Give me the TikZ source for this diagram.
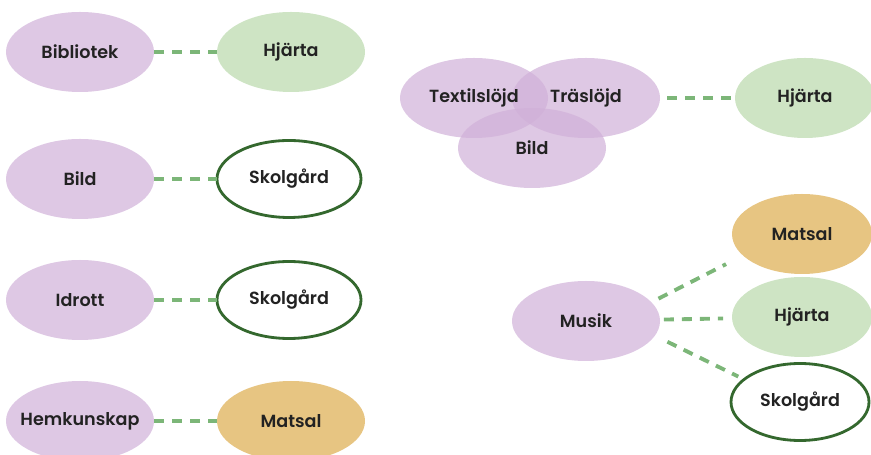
\documentclass[tikz,border=0pt]{standalone}
\usepackage{fontspec}
\setmainfont{Poppins SemiBold}
\usetikzlibrary{positioning,shapes.geometric}
\definecolor{subj}{RGB}{208,176,216}
\definecolor{heart}{RGB}{206,228,196}
\definecolor{hall}{RGB}{231,197,130}
\definecolor{yard}{RGB}{52,104,46}
\definecolor{link}{RGB}{124,182,120}
\definecolor{ink}{RGB}{34,34,34}

\begin{document}
\begin{tikzpicture}[node distance=12.6mm,
  every node/.style={font=\fontsize{10}{12}\selectfont,text=ink,ellipse,inner xsep=-6mm,inner ysep=0pt,
    outer sep=0pt,minimum width=29.6mm,minimum height=16mm},
  subject/.style={fill=subj,fill opacity=.7,text opacity=1},
  heartroom/.style={fill=heart},
  dining/.style={fill=hall},
  schoolyard/.style={draw=yard,line width=1.6pt,fill=white,minimum width=28.8mm,minimum height=15.4mm},
  tie/.style={draw=link,line width=2.2pt,dash pattern=on 2mm off 1.6mm}]
\useasboundingbox (0,0) rectangle (17.42,9.1);

% left column, one subject per room
\node[subject] (bib) at (1.6,8.06) {Bibliotek};
\node[heartroom,right=of bib] (bibR) {Hjärta};
\node[subject] (bild) at (1.6,5.52) {Bild};
\node[schoolyard,right=of bild] (bildR) {Skolgård};
\node[subject] (idr) at (1.6,3.1) {Idrott};
\node[schoolyard,right=of idr] (idrR) {Skolgård};
\node[subject] (hem) at (1.6,0.68) {Hemkunskap};
\node[dining,right=of hem] (hemR) {Matsal};
\draw[tie] (bib)--(bibR);
\draw[tie] (bild)--(bildR);
\draw[tie] (idr)--(idrR);
\draw[tie] (hem)--(hemR);

% three crafts sharing one room (labels on top of all three fills)
\node[subject] (tex) at (9.48,7.14) {};
\node[subject] (tra) at (11.72,7.14) {};
\node[subject] (bild2) at (10.64,6.14) {};
\node[heartroom,minimum width=28mm] (craftR) at (16.1,7.14) {Hjärta};
\node[fill=none] at (tex) {Textilslöjd};
\node[fill=none] at (tra) {Träslöjd};
\node[fill=none] at (bild2) {Bild};
\draw[tie,shorten <=1.4mm,shorten >=0.8mm] (tra)--(craftR);

% music in three rooms
\node[subject] (mus) at (11.72,2.68) {Musik};
\node[dining,minimum width=28mm] (musA) at (16.04,4.42) {Matsal};
\node[heartroom,minimum width=28mm] (musB) at (16.04,2.76) {Hjärta};
\node[schoolyard,minimum width=27.6mm] (musC) at (16.0,1.06) {Skolgård};
\draw[tie,shorten <=1.6mm,shorten >=3.8mm] (mus.16)--(musA.200);
\draw[tie,shorten <=0.8mm,shorten >=1.8mm] (mus)--(musB);
\draw[tie,shorten <=2.8mm,shorten >=1.3mm] (mus.-12)--(musC.158);
\end{tikzpicture}
\end{document}
